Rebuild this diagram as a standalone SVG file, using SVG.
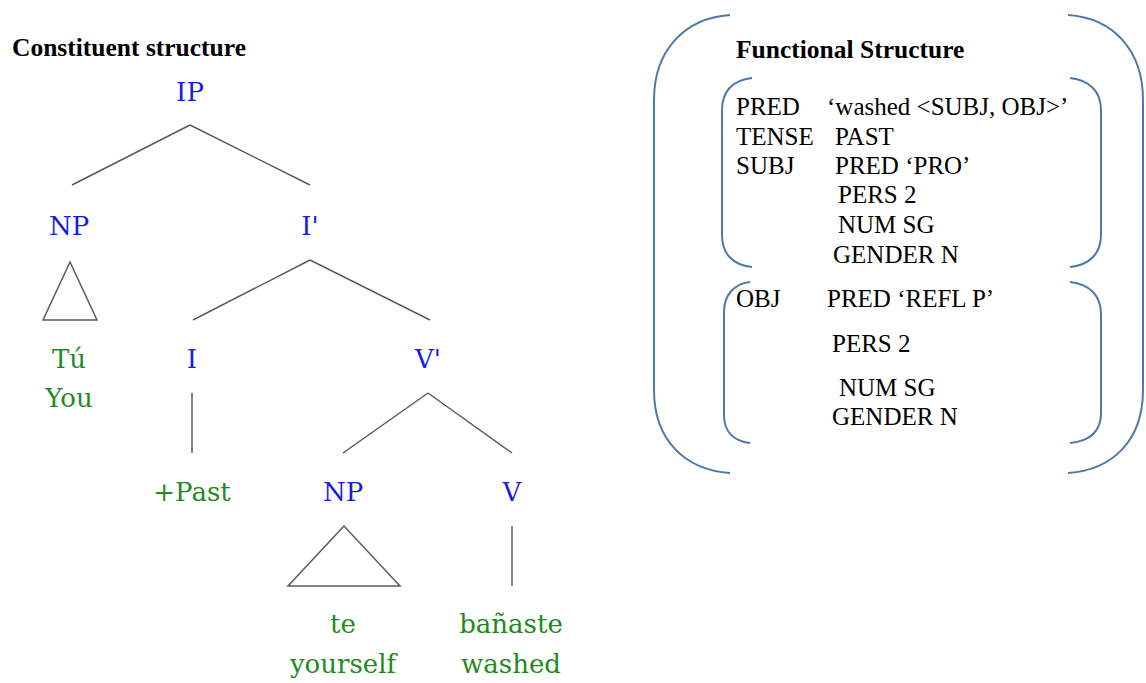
<svg xmlns="http://www.w3.org/2000/svg" width="1146" height="683" viewBox="0 0 1146 683">
  <style>
    .cat { font-family: "DejaVu Serif", "Liberation Serif", serif; font-size: 26px; fill: #1a1ae6; text-anchor: middle; }
    .word { font-family: "DejaVu Serif", "Liberation Serif", serif; font-size: 26px; fill: #1f8a1f; text-anchor: middle; }
    .title { font-family: "Liberation Serif", serif; font-size: 25.5px; font-weight: bold; fill: #000; }
    .fs { font-family: "Liberation Serif", serif; font-size: 25px; fill: #000; }
    .edge { stroke: #5a5a5a; stroke-width: 1.5; fill: none; }
    .brk { stroke: #4d78ad; stroke-width: 2; fill: none; }
  </style>

  <rect width="1146" height="683" fill="#ffffff"/>

  <text class="title" x="12" y="56">Constituent structure</text>

  <!-- tree branches -->
  <g id="connectors">
    <path class="edge" d="M190,125 L72,185 M190,125 L310,185"/>
    <path class="edge" d="M70,262 L43,320 L97,320 Z"/>
    <path class="edge" d="M310,260 L193,320 M310,260 L430,320"/>
    <path class="edge" d="M192,393 L192,453"/>
    <path class="edge" d="M428,393 L343,453 M428,393 L512,453"/>
    <path class="edge" d="M344,526 L288,586 L400,586 Z"/>
    <path class="edge" d="M512,526 L512,586"/>
  </g>

  <!-- tree nodes -->
  <g id="n-ip"><text class="cat" x="190" y="101">IP</text></g>
  <g id="n-np1"><text class="cat" x="69" y="235">NP</text></g>
  <g id="n-tu"><text class="word" x="69" y="368">Tú</text><text class="word" x="69" y="407">You</text></g>
  <g id="n-ibar"><text class="cat" x="310" y="235">I'</text></g>
  <g id="n-i"><text class="cat" x="192" y="368">I</text></g>
  <g id="n-vbar"><text class="cat" x="428" y="368">V'</text></g>
  <g id="n-past"><text class="word" x="192" y="501">+Past</text></g>
  <g id="n-np2"><text class="cat" x="343" y="501">NP</text></g>
  <g id="n-v"><text class="cat" x="512" y="501">V</text></g>
  <g id="n-te"><text class="word" x="343" y="633">te</text><text class="word" x="343" y="673">yourself</text></g>
  <g id="n-banaste"><text class="word" x="511" y="633">bañaste</text><text class="word" x="511" y="673">washed</text></g>

  <!-- functional structure -->
  <g id="fstructure">
    <path class="brk" d="M730,15 C685,18 654,50 654,100 L654,390 C654,440 685,470 730,473"/>
    <path class="brk" d="M1068,15 C1113,18 1143,50 1143,100 L1143,390 C1143,440 1113,470 1068,473"/>

    <text class="title" x="736" y="58">Functional Structure</text>

    <path class="brk" d="M752,78 C732,80 722,92 722,110 L722,235 C722,253 732,265 752,267"/>
    <path class="brk" d="M1070,78 C1090,80 1101,92 1101,110 L1101,235 C1101,253 1090,265 1070,267"/>

    <text class="fs" x="736" y="115">PRED</text>
    <text class="fs" x="827" y="115">‘washed &lt;SUBJ, OBJ&gt;’</text>
    <text class="fs" x="736" y="145">TENSE</text>
    <text class="fs" x="835" y="145">PAST</text>
    <text class="fs" x="736" y="174">SUBJ</text>
    <text class="fs" x="835" y="174">PRED ‘PRO’</text>
    <text class="fs" x="838" y="203">PERS 2</text>
    <text class="fs" x="838" y="233">NUM SG</text>
    <text class="fs" x="833" y="263">GENDER N</text>

    <path class="brk" d="M750,282 C733,284 724,296 724,312 L724,415 C724,431 733,441 750,443"/>
    <path class="brk" d="M1070,282 C1090,284 1101,296 1101,314 L1101,413 C1101,431 1090,441 1070,443"/>

    <text class="fs" x="736" y="307">OBJ</text>
    <text class="fs" x="827" y="307">PRED ‘REFL P’</text>
    <text class="fs" x="832" y="352">PERS 2</text>
    <text class="fs" x="839" y="396">NUM SG</text>
    <text class="fs" x="832" y="425">GENDER N</text>
  </g>
</svg>
